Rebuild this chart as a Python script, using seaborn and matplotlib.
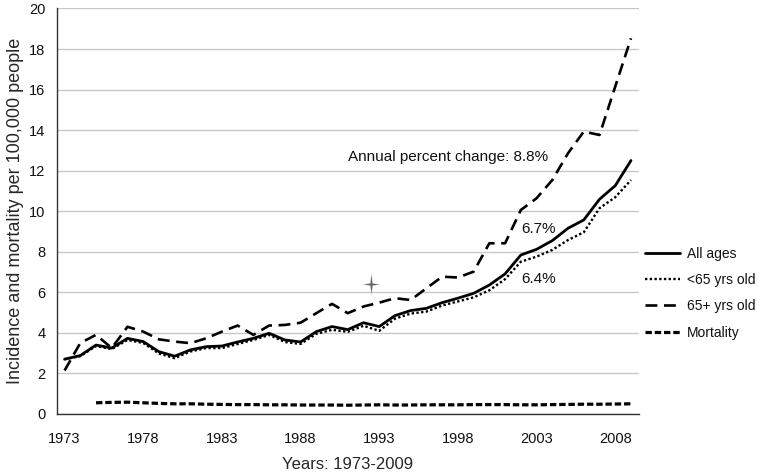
import matplotlib
matplotlib.use("Agg")
import matplotlib.pyplot as plt
from matplotlib.path import Path
import numpy as np
import pandas as pd
import seaborn as sns

years = list(range(1973, 2010))
all_ages = [2.70, 2.88, 3.40, 3.25, 3.73, 3.57, 3.07, 2.85, 3.16, 3.32,
            3.35, 3.55, 3.73, 3.98, 3.65, 3.55, 4.06, 4.31, 4.16, 4.50,
            4.31, 4.85, 5.10, 5.21, 5.49, 5.71, 5.95, 6.36, 6.91, 7.84,
            8.12, 8.55, 9.16, 9.57, 10.59, 11.26, 12.50]
under_65 = [2.70, 2.85, 3.35, 3.20, 3.65, 3.50, 2.98, 2.75, 3.08, 3.25,
            3.25, 3.45, 3.65, 3.90, 3.55, 3.45, 3.95, 4.15, 4.05, 4.35,
            4.10, 4.70, 4.95, 5.05, 5.35, 5.55, 5.75, 6.10, 6.65, 7.51,
            7.76, 8.09, 8.58, 8.96, 10.15, 10.69, 11.54]
over_65 = [2.14, 3.50, 3.90, 3.25, 4.30, 4.06, 3.68, 3.57, 3.49, 3.73,
           4.06, 4.36, 3.90, 4.36, 4.39, 4.50, 4.97, 5.43, 4.97, 5.30,
           5.49, 5.71, 5.62, 6.20, 6.77, 6.73, 7.02, 8.42, 8.42, 10.06,
           10.64, 11.54, 12.86, 13.93, 13.76, 16.15, 18.53]
mortality_years = list(range(1975, 2010))
mortality = [0.55, 0.57, 0.58, 0.55, 0.52, 0.50, 0.50, 0.48, 0.47, 0.46,
             0.46, 0.45, 0.45, 0.44, 0.44, 0.44, 0.43, 0.44, 0.45, 0.44,
             0.44, 0.45, 0.45, 0.45, 0.46, 0.46, 0.46, 0.45, 0.45, 0.46,
             0.47, 0.48, 0.48, 0.49, 0.50]
tick_years = list(range(1973, 2009, 5))
star_x, star_y = [1992.5], [6.4]

sns.set_style("white")
plt.rcParams["font.family"] = ["Liberation Sans", "DejaVu Sans"]
plt.rcParams["text.color"] = "#111111"
plt.rcParams["xtick.color"] = "#111111"
plt.rcParams["ytick.color"] = "#111111"

fig = plt.figure(figsize=(7.58, 4.72), dpi=100)
ax = fig.add_axes([0.0748, 0.123, 0.768, 0.859])

ax.grid(axis="y", color="#c8c8c8", linewidth=1.0)
ax.set_axisbelow(True)

series = [
    ("All ages", years, all_ages, dict(linewidth=2.0, linestyle="-")),
    ("<65 yrs old", years, under_65, dict(linewidth=1.7, linestyle=(0, (1, 1.0)))),
    ("65+ yrs old", years, over_65, dict(linewidth=1.9, linestyle=(0, (4.5, 2.5)))),
    ("Mortality", mortality_years, mortality, dict(linewidth=2.3, linestyle=(0, (2, 0.9)))),
]
for name, xs, ys, kw in series:
    sns.lineplot(x=xs, y=ys, ax=ax, color="black", label=name, **kw)

star = Path([(0, 1.25), (0.13, 0.13), (1, 0), (0.13, -0.13), (0, -1.25),
             (-0.13, -0.13), (-1, 0), (-0.13, 0.13), (0, 1.25)])
ax.scatter(star_x, star_y, marker=star, s=300, color="#aaaaaa", alpha=0.5, linewidths=0, zorder=5)
ax.scatter(star_x, star_y, marker=star, s=190, color="#666666", linewidths=0, zorder=6)

ax.text(1991.03, 12.69, "Annual percent change: 8.8%", fontsize=11, va="center", ha="left")
ax.text(2002.0, 9.13, "6.7%", fontsize=11, va="center", ha="left")
ax.text(2002.0, 6.66, "6.4%", fontsize=11, va="center", ha="left")

ax.set_xlim(1972.5, 2009.5)
ax.set_ylim(0, 20)
ax.set_yticks(range(0, 21, 2))
ax.set_xticks(tick_years)
ax.set_xticks(np.arange(1972.5, 2010, 1), minor=True)
ax.tick_params(axis="x", which="major", length=0, labelsize=10.5, pad=13)
ax.tick_params(axis="x", which="minor", length=5, width=0.8, color="#333333", direction="out")
ax.tick_params(axis="y", length=5, width=0.8, color="#333333", labelsize=10.5, direction="out", pad=3)

for side in ["top", "right"]:
    ax.spines[side].set_visible(False)
for side in ["left", "bottom"]:
    ax.spines[side].set_color("#333333")
    ax.spines[side].set_linewidth(1.0)

ax.set_xlabel("Years: 1973-2009", fontsize=12, labelpad=8)
ax.set_ylabel("Incidence and mortality per 100,000 people", fontsize=13, labelpad=4)

ax.legend(loc="upper left", bbox_to_anchor=(0.851, 0.477), bbox_transform=fig.transFigure,
          frameon=False, fontsize=10, handlelength=2.5, handletextpad=0.5,
          labelspacing=0.88, borderaxespad=0, borderpad=0)

fig.savefig("out.png", dpi=100)
